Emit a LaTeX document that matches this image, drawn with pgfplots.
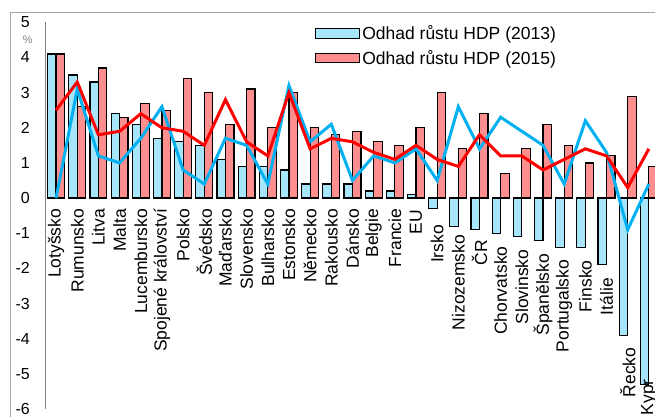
\documentclass[border=0pt]{standalone}
\usepackage{pgfplots}
\usepackage{pgfplotstable}
\pgfplotsset{compat=1.18}
\usepackage{fontspec}
\setmainfont{Liberation Sans}
\definecolor{barblue}{HTML}{A6E5FA}
\definecolor{barred}{HTML}{FF8F8F}
\definecolor{lineblue}{HTML}{00B0F0}
\definecolor{linered}{HTML}{FF0000}
\definecolor{framegray}{HTML}{A6A6A6}
\pgfplotstableread[col sep=comma]{
x,b13,b15,l13,l15,ly,name
0,4.1,4.1,0.0,2.5,-0.30,Lotyšsko
1,3.5,2.6,3.1,3.3,-0.30,Rumunsko
2,3.3,3.7,1.2,1.8,-0.30,Litva
3,2.4,2.3,1.0,1.9,-0.30,Malta
4,2.1,2.7,1.7,2.4,-0.30,Lucembursko
5,1.7,2.5,2.6,2.0,-0.30,Spojené království
6,1.6,3.4,0.8,1.9,-0.30,Polsko
7,1.5,3.0,0.4,1.5,-0.30,Švédsko
8,1.1,2.1,1.7,2.8,-0.30,Maďarsko
9,0.9,3.1,1.5,1.6,-0.30,Slovensko
10,0.9,2.0,0.4,1.2,-0.30,Bulharsko
11,0.8,3.0,3.2,3.0,-0.30,Estonsko
12,0.4,2.0,1.6,1.4,-0.30,Německo
13,0.4,1.8,2.1,1.7,-0.30,Rakousko
14,0.4,1.9,0.5,1.6,-0.30,Dánsko
15,0.2,1.6,1.2,1.3,-0.30,Belgie
16,0.2,1.5,1.0,1.1,-0.30,Francie
17,0.1,2.0,1.4,1.5,-0.33,EU
18,-0.3,3.0,0.5,1.1,-0.76,Irsko
19,-0.8,1.4,2.6,0.9,-1.04,Nizozemsko
20,-0.9,2.4,1.4,1.8,-1.18,ČR
21,-1.0,0.7,2.3,1.2,-1.37,Chorvatsko
22,-1.1,1.4,1.9,1.2,-1.46,Slovinsko
23,-1.2,2.1,1.5,0.8,-1.58,Španělsko
24,-1.4,1.5,0.4,1.1,-1.75,Portugalsko
25,-1.4,1.0,2.2,1.4,-1.77,Finsko
26,-1.9,1.2,1.3,1.2,-2.27,Itálie
27,-3.9,2.9,-0.9,0.3,-4.25,Řecko
28,-5.3,0.9,0.4,1.4,-5.15,Kypr
}\data
\begin{document}
\begin{tikzpicture}[x=1pt,y=1pt]
\useasboundingbox (0,0) rectangle (655,416);
\draw[framegray, line width=1.5pt] (10.7,-10) rectangle (700,403.7);
\begin{axis}[
  at={(45.5pt,7pt)}, anchor=south west,
  scale only axis, width=609.5pt, height=386.7pt,
  xmin=-0.5, xmax=28.29, ymin=-6, ymax=5,
  axis x line=none, axis y line*=left,
  axis line style={draw=gray, line width=1.3pt},
  xtick=\empty, ytick={-6,-5,...,5},
  major tick length=0pt,
  /pgf/number format/assume math mode=true,
  yticklabel style={font=\fontsize{16}{16}\selectfont, anchor=east, inner sep=0pt, xshift=-15.5pt},
  ylabel={\%}, ylabel style={rotate=-90, at={(axis description cs:-0.029,0.955)}, anchor=center, font=\fontsize{11}{11}\selectfont, text=gray},
  legend style={at={(0.442,0.997)}, anchor=north west, draw=none, fill=none,
    font=\fontsize{17.5}{18}\selectfont, row sep=5pt, inner sep=0pt,
    nodes={inner sep=2pt}},
  legend cell align=left,
  clip=false,
]
\addplot[ybar, bar width=0.4, bar shift=-0.2, fill=barblue, draw=black, line width=1.2pt,
  legend image code/.code={\draw[fill=barblue, draw=black, line width=1.2pt] (0pt,-4.75pt) rectangle (44pt,4.75pt);}]
  table[x=x, y=b13] {\data};
\addlegendentry{Odhad růstu HDP (2013)}
\addplot[ybar, bar width=0.4, bar shift=0.2, fill=barred, draw=black, line width=1.2pt,
  legend image code/.code={\draw[fill=barred, draw=black, line width=1.2pt] (0pt,-4.75pt) rectangle (44pt,4.75pt);}]
  table[x=x, y=b15] {\data};
\addlegendentry{Odhad růstu HDP (2015)}
\addplot[lineblue, line width=3pt, mark=none, forget plot] table[x=x, y=l13] {\data};
\addplot[linered, line width=3pt, mark=none, forget plot] table[x=x, y=l15] {\data};
\addplot[draw=none, mark=none, forget plot, nodes near coords={\pgfplotspointmeta},
  point meta=explicit symbolic,
  every node near coord/.style={rotate=90, anchor=east, inner sep=0pt, font=\fontsize{17.5}{18}\selectfont}]
  table[x=x, y=ly, meta=name] {\data};
\end{axis}
\end{tikzpicture}
\end{document}
